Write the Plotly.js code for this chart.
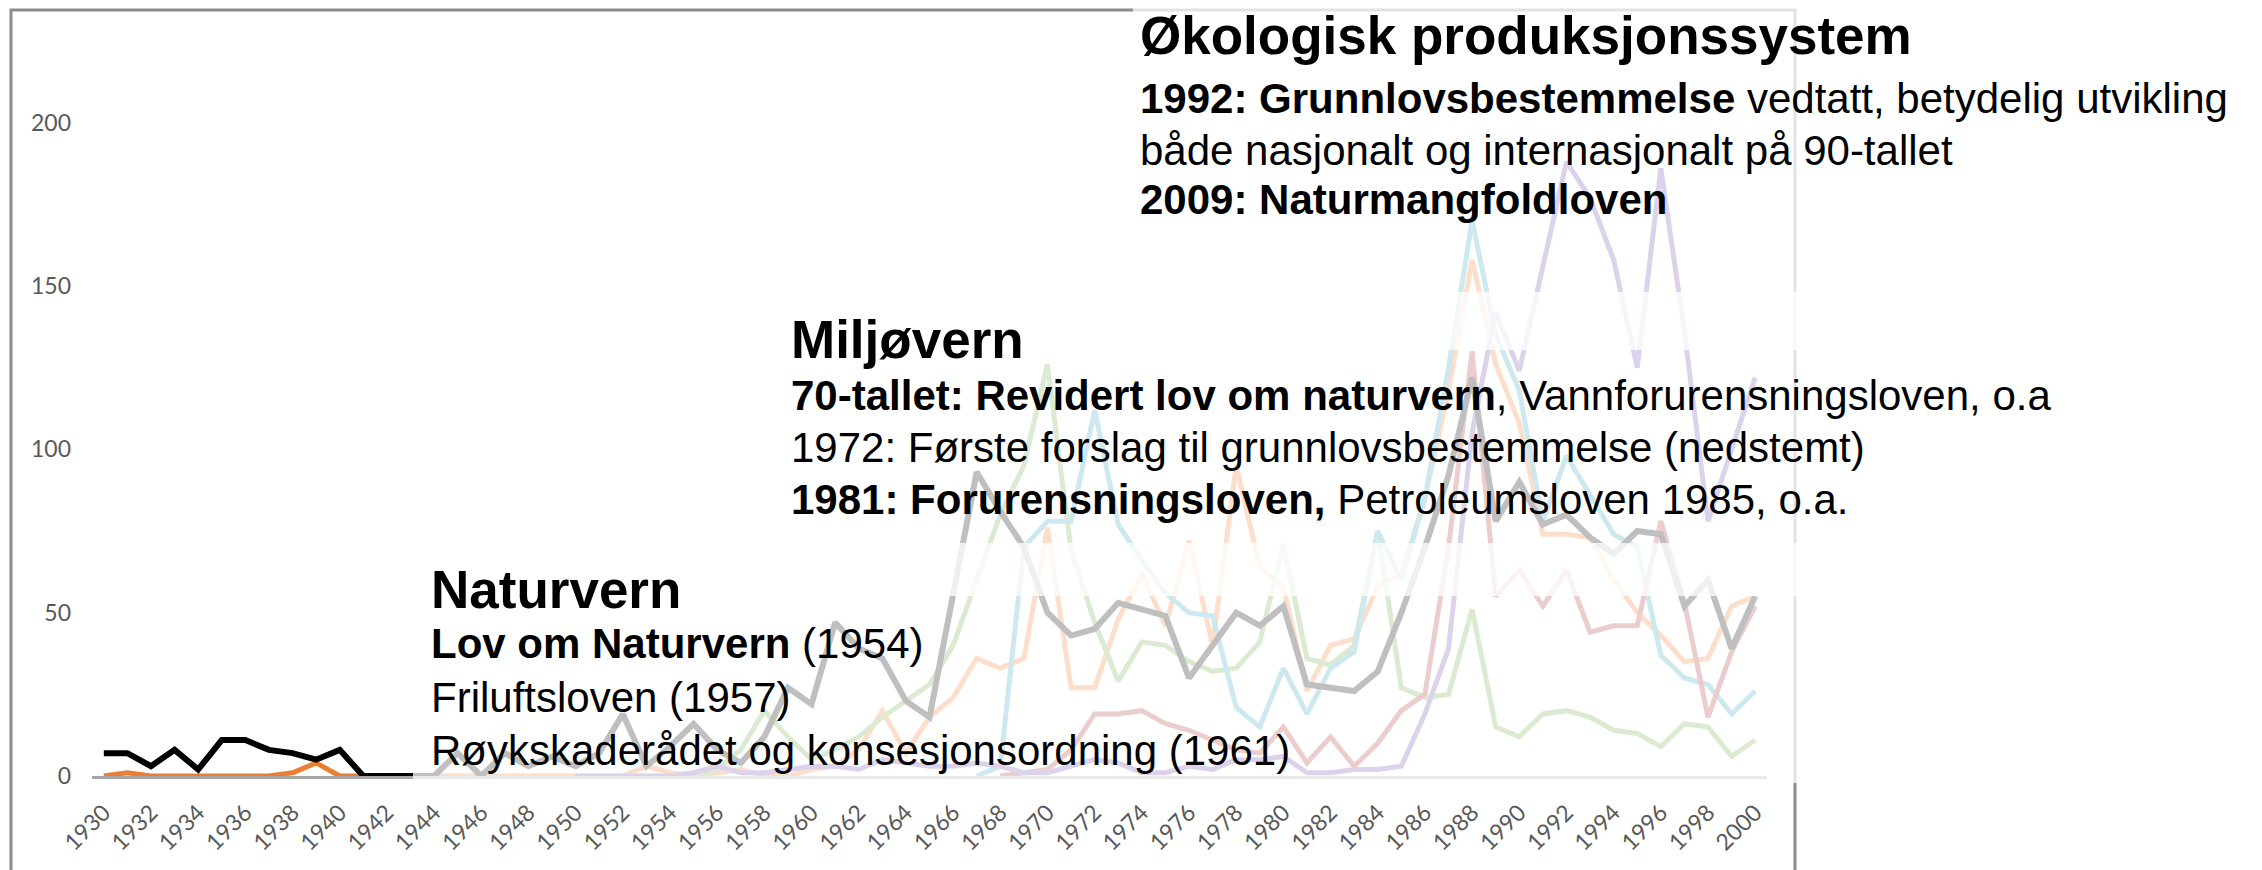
<!DOCTYPE html>
<html>
<head>
<meta charset="utf-8">
<script src="https://cdn.plot.ly/plotly-3.0.1.min.js"></script>
<style>
  html, body { margin: 0; padding: 0; background: #ffffff; }
  #chart { width: 2262px; height: 870px; }
</style>
</head>
<body>
<div id="chart"></div>
<script>
// ---- categories ----
const years = [1930,1931,1932,1933,1934,1935,1936,1937,1938,1939,
  1940,1941,1942,1943,1944,1945,1946,1947,1948,1949,
  1950,1951,1952,1953,1954,1955,1956,1957,1958,1959,
  1960,1961,1962,1963,1964,1965,1966,1967,1968,1969,
  1970,1971,1972,1973,1974,1975,1976,1977,1978,1979,
  1980,1981,1982,1983,1984,1985,1986,1987,1988,1989,
  1990,1991,1992,1993,1994,1995,1996,1997,1998,1999,2000];

const tickYears = [1930,1932,1934,1936,1938,1940,1942,1944,1946,1948,1950,1952,1954,1956,1958,
  1960,1962,1964,1966,1968,1970,1972,1974,1976,1978,1980,1982,1984,1986,1988,1990,1992,1994,1996,1998,2000];
const tickLabels = ["1930","1932","1934","1936","1938","1940","1942","1944","1946","1948","1950","1952","1954","1956","1958",
  "1960","1962","1964","1966","1968","1970","1972","1974","1976","1978","1980","1982","1984","1986","1988","1990","1992","1994","1996","1998","2000"];
const yTicks = [0, 50, 100, 150, 200];

// ---- series values (start year + values) ----
const blackStart = 1930;
const blackValues = [7,7,3,8,2,11,11,8,7,5,
  8,0,0,0,0,7,0,7,3,6,
  3,7,19,3,9,16,8,4,12,27,
  22,47,39,36,23,18,55,93,81,70,
  50,43,45,53,51,49,30,40,50,46,
  52,28,27,26,32,50,70,92,122,78,
  90,77,80,73,68,75,74,52,60,39,55];

const orangeStart = 1930;
const orangeValues = [0,1,0,0,0,0,0,0,1,4,
  0,0,0,0,0,0,0,0,0,0,
  0,0,0,3,1,0,1,2,0,0,
  2,3,8,20,7,18,24,36,33,36,
  76,27,27,48,62,46,72,40,95,64,
  58,26,40,42,58,62,85,118,158,126,
  108,74,74,73,60,50,43,35,36,52,55];

const greenStart = 1955;
const greenValues = [0,2,8,20,12,
  5,8,12,18,23,28,40,60,80,95,
  126,69,47,29,41,40,35,32,33,41,
  71,36,34,40,75,27,24,25,51,15,
  12,19,20,18,14,13,9,16,15,6,11];

const blueStart = 1967;
const blueValues = [0,3,70,
  78,78,112,77,66,56,50,49,21,15,
  33,19,33,38,75,60,85,125,170,135,
  118,78,98,86,74,70,37,30,28,19,26];

const redStart = 1968;
const redValues = [0,1,
  2,8,19,19,20,16,14,11,8,7,
  15,4,12,3,10,20,25,70,130,55,
  63,52,63,44,46,46,78,53,18,38,52];

const purpleStart = 1950;
const purpleValues = [0,0,0,0,0,1,3,1,1,2,
  3,3,2,5,4,3,3,4,3,1,
  1,3,5,4,1,1,3,2,5,5,
  6,1,1,2,2,3,19,39,105,142,
  124,156,188,177,158,125,186,136,78,100,122];

// ---- text ----
const okoTitle = "Økologisk produksjonssystem";
const okoLines = ["<b>1992: Grunnlovsbestemmelse</b> vedtatt, betydelig utvikling",
  "både nasjonalt og internasjonalt på 90-tallet",
  "<b>2009: Naturmangfoldloven</b>"];
const miljoTitle = "Miljøvern";
const miljoLines = ["<b>70-tallet: Revidert lov om naturvern</b>, Vannforurensningsloven, o.a",
  "1972: Første forslag til grunnlovsbestemmelse (nedstemt)",
  "<b>1981: Forurensningsloven,</b> Petroleumsloven 1985, o.a."];
const naturTitle = "Naturvern";
const naturLines = ["<b>Lov om Naturvern</b> (1954)",
  "Friluftsloven (1957)",
  "Røykskaderådet og konsesjonsordning (1961)"];

// ---- geometry (pixels of the 2262x870 page) ----
const W = 2262, H = 870;
const px = v => v / W;
const py = v => 1 - v / H;

function xsFrom(start, n) {
  const i = years.indexOf(start);
  return years.slice(i, i + n);
}
function line(start, vals, color, width) {
  return {
    type: 'scatter', mode: 'lines',
    x: xsFrom(start, vals.length), y: vals,
    line: { color: color, width: width, shape: 'linear' },
    hoverinfo: 'skip', showlegend: false
  };
}

const traces = [
  line(orangeStart, orangeValues, '#ED7D31', 5),
  line(greenStart, greenValues, '#70AD47', 5),
  line(blueStart, blueValues, '#3FA3BF', 5),
  line(redStart, redValues, '#B03A3A', 5),
  line(purpleStart, purpleValues, '#7A4DB5', 5),
  line(blackStart, blackValues, '#000000', 6)
];

const boxFill = 'rgba(255,255,255,0.75)';
function box(x0, y0, x1, y1) {
  return { type: 'rect', xref: 'paper', yref: 'paper',
    x0: px(x0), x1: px(x1), y0: py(y1), y1: py(y0),
    fillcolor: boxFill, line: { width: 0 }, layer: 'above' };
}

const shapes = [
  { type: 'rect', xref: 'paper', yref: 'paper', x0: px(11), x1: px(1795), y0: -0.2, y1: py(10),
    line: { color: '#8c8c8c', width: 3 }, fillcolor: 'rgba(0,0,0,0)', layer: 'below' },
  box(413, 543, 1830, 783),
  box(780, 292, 2110, 596),
  box(1133, 0, 2262, 350)
];

const FONT = '"Liberation Sans", Arial, sans-serif';
function ann(text, x, yc, size, bold) {
  return { xref: 'paper', yref: 'paper', x: px(x), y: py(yc),
    xanchor: 'left', yanchor: 'middle', showarrow: false,
    text: bold ? '<b>' + text + '</b>' : text,
    font: { family: FONT, size: size, color: '#000000' }, align: 'left' };
}
const annotations = [
  ann(okoTitle, 1138, 36, 53, true),
  ann(okoLines[0], 1138, 98, 42, false),
  ann(okoLines[1], 1138, 150, 42, false),
  ann(okoLines[2], 1138, 200, 42, false),
  ann(miljoTitle, 789, 340, 53, true),
  ann(miljoLines[0], 789, 395, 42, false),
  ann(miljoLines[1], 789, 447, 42, false),
  ann(miljoLines[2], 789, 500, 42, false),
  ann(naturTitle, 429, 589, 53, true),
  ann(naturLines[0], 429, 643, 42, false),
  ann(naturLines[1], 429, 697, 42, false),
  ann(naturLines[2], 429, 750, 42, false)
];

const yBottom = 776, yTop = 40, pxPerUnit = 3.267;

const layout = {
  width: W, height: H,
  margin: { l: 0, r: 0, t: 0, b: 0, pad: 0 },
  paper_bgcolor: '#ffffff', plot_bgcolor: 'rgba(0,0,0,0)',
  showlegend: false,
  xaxis: {
    domain: [px(92), px(1767)],
    range: [1929.5, 2000.5],
    tickmode: 'array', tickvals: tickYears, ticktext: tickLabels,
    tickangle: -45, ticks: '', showgrid: false, zeroline: false,
    showline: true, linecolor: '#a6a6a6', linewidth: 3,
    tickfont: { family: 'Lato, "Open Sans", sans-serif', size: 23, color: '#595959' },
    ticklabelstandoff: 11, fixedrange: true
  },
  yaxis: {
    domain: [1 - yBottom / H, 1 - yTop / H],
    range: [0, (yBottom - yTop) / pxPerUnit],
    tickmode: 'array', tickvals: yTicks, ticktext: yTicks.map(String),
    ticks: '', showgrid: false, zeroline: false, showline: false,
    tickfont: { family: 'Lato, "Open Sans", sans-serif', size: 23, color: '#595959' },
    ticklabelstandoff: 20, fixedrange: true
  },
  shapes: shapes,
  annotations: annotations
};

Plotly.newPlot('chart', traces, layout, { staticPlot: true, displayModeBar: false });
</script>
</body>
</html>
